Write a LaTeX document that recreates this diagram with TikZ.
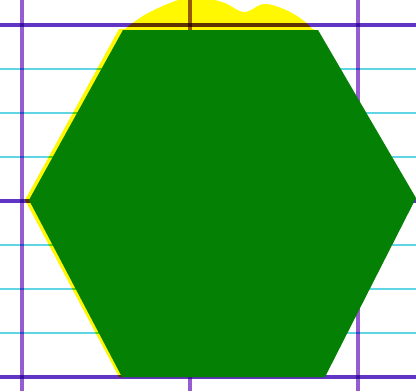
\documentclass[tikz,border=0pt]{standalone}
\usepackage{tikz}
\usetikzlibrary{calc}
\definecolor{hexgreen}{RGB}{4, 128, 4}
\definecolor{hexyellow}{RGB}{255, 248, 0}
\definecolor{gridviolet}{RGB}{96, 52, 196}
\definecolor{gridlilac}{RGB}{150, 92, 210}
\definecolor{gridcyan}{RGB}{96, 214, 228}

\begin{document}
\begin{tikzpicture}[x=0.6pt, y=-0.6pt,
    majorline/.style={draw=gridviolet, line width=2.2pt},
    rulerline/.style={draw=gridlilac, line width=1.9pt},
    minorline/.style={draw=gridcyan, line width=1.1pt}]
    % Paper and frame
    \fill[white] (0,0) rectangle (416,391);
    \clip (0,0) rectangle (416,391);

    % Corners of the hexagon
    \coordinate (tl) at (123,30);
    \coordinate (tr) at (318,30);
    \coordinate (rt) at (416,198);
    \coordinate (br) at (325,377);
    \coordinate (bl) at (122,377);
    \coordinate (lf) at (29,200);

    % Yellow layer behind the hexagon
    \fill[hexyellow] plot[smooth, tension=0.6] coordinates {(120,33) (148,13) (190,-3)
        (222,2) (244,12) (264,4) (286,10) (304,21) (316,33)} -- cycle;
    \fill[hexyellow] ($(tl)+(-4,-1)$) -- ($(tr)+(-4,-1)$) -- ($(rt)+(-4,0)$)
        -- ($(br)+(-4,0)$) -- ($(bl)+(-3,0)$) -- ($(lf)+(-4,0)$) -- cycle;

    % Ruled grid
    \begin{scope}[blend mode=multiply]
        \foreach \k in {1,2,3,5,6,7}
            \draw[minorline] (0,25+44*\k) -- (416,25+44*\k);
        \foreach \k in {0,4,8}
            \draw[majorline] (0,25+44*\k) -- (416,25+44*\k);
        \foreach \xx in {22,190,358}
            \draw[rulerline] (\xx,0) -- (\xx,391);
    \end{scope}

    % Green hexagon
    \fill[hexgreen] (tl) -- (tr) -- (rt) -- (br) -- (bl) -- (lf) -- cycle;
\end{tikzpicture}
\end{document}
